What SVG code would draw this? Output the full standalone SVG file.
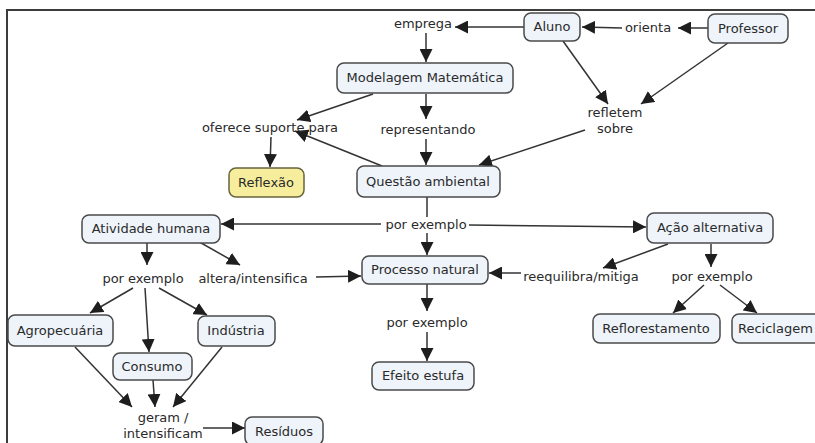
<svg xmlns="http://www.w3.org/2000/svg" width="815" height="443" viewBox="0 0 815 443">
<style>
text{font-family:"DejaVu Sans",Verdana,sans-serif;font-size:13px;fill:#2a2a2a;text-anchor:middle}
.n rect{fill:#eef4fa;stroke:#4a4a4a;stroke-width:1.5}
#reflexao rect{fill:#f6ee9c;stroke:#66643c}
.c line{stroke:#333;stroke-width:1.5;fill:none}
.a{marker-end:url(#ah)}
</style>
<defs>
<marker id="ah" viewBox="0 0 10 10" refX="10" refY="5" markerWidth="13" markerHeight="13" markerUnits="userSpaceOnUse" orient="auto">
<path d="M0,0 L10,5 L0,10 z" fill="#1e1e1e"/>
</marker>
</defs>
<rect width="815" height="443" fill="#fff"/>
<path d="M7,443 V10 H815" fill="none" stroke="#3c3c3c" stroke-width="2"/>

<g class="c" id="connectors">
<line class="a" x1="524" y1="27" x2="455" y2="27"/>
<line class="a" x1="708" y1="28" x2="678" y2="28"/>
<line class="a" x1="622" y1="28" x2="582" y2="27"/>
<line class="a" x1="426" y1="33" x2="426" y2="62"/>
<line class="a" x1="426" y1="94" x2="426" y2="119"/>
<line class="a" x1="426" y1="139" x2="426" y2="165"/>
<line class="a" x1="373" y1="94" x2="297" y2="120"/>
<line class="a" x1="382" y1="166" x2="295" y2="131"/>
<line class="a" x1="271" y1="137" x2="270" y2="167"/>
<line class="a" x1="563" y1="41" x2="608" y2="104"/>
<line class="a" x1="728" y1="43" x2="641" y2="104"/>
<line class="a" x1="585" y1="130" x2="479" y2="165"/>
<line x1="427" y1="197" x2="427" y2="217"/>
<line class="a" x1="381" y1="224" x2="221" y2="224"/>
<line class="a" x1="469" y1="225" x2="646" y2="227"/>
<line class="a" x1="427" y1="233" x2="427" y2="255"/>
<line class="a" x1="147" y1="243" x2="147" y2="265"/>
<line class="a" x1="187" y1="235" x2="240" y2="265"/>
<line class="a" x1="316" y1="277" x2="361" y2="276"/>
<line class="a" x1="668" y1="244" x2="603" y2="268"/>
<line class="a" x1="521" y1="273" x2="489" y2="273"/>
<line class="a" x1="711" y1="244" x2="711" y2="267"/>
<line class="a" x1="704" y1="285" x2="673" y2="313"/>
<line class="a" x1="720" y1="285" x2="757" y2="313"/>
<line class="a" x1="427" y1="284" x2="427" y2="311"/>
<line class="a" x1="427" y1="332" x2="427" y2="361"/>
<line class="a" x1="133" y1="288" x2="90" y2="313"/>
<line class="a" x1="145" y1="288" x2="149" y2="352"/>
<line class="a" x1="159" y1="288" x2="207" y2="315"/>
<line class="a" x1="75" y1="347" x2="132" y2="407"/>
<line class="a" x1="153" y1="380" x2="155" y2="407"/>
<line class="a" x1="222" y1="347" x2="173" y2="407"/>
<line class="a" x1="203" y1="428" x2="245" y2="428"/>
</g>

<g id="lbl-emprega"><text x="423" y="28">emprega</text></g>
<g id="lbl-orienta"><text x="648" y="32">orienta</text></g>
<g id="lbl-representando"><text x="428" y="134">representando</text></g>
<g id="lbl-oferece"><text x="270" y="132">oferece suporte para</text></g>
<g id="lbl-refletem"><text x="615" y="117">refletem</text><text x="615" y="133">sobre</text></g>
<g id="lbl-porexemplo1"><text x="426" y="229">por exemplo</text></g>
<g id="lbl-porexemplo2"><text x="143" y="283">por exemplo</text></g>
<g id="lbl-altera"><text x="253" y="283">altera/intensifica</text></g>
<g id="lbl-reequilibra"><text x="581" y="281">reequilibra/mitiga</text></g>
<g id="lbl-porexemplo3"><text x="712" y="281">por exemplo</text></g>
<g id="lbl-porexemplo4"><text x="427" y="327">por exemplo</text></g>
<g id="lbl-geram"><text x="163" y="422">geram /</text><text x="163" y="438">intensificam</text></g>

<g class="n" id="aluno"><rect x="524" y="13" width="56" height="28" rx="7"/><text x="552" y="31">Aluno</text></g>
<g class="n" id="professor"><rect x="708" y="14" width="80" height="29" rx="7"/><text x="748" y="33">Professor</text></g>
<g class="n" id="modelagem"><rect x="337" y="63" width="176" height="30" rx="7"/><text x="425" y="82">Modelagem Matemática</text></g>
<g class="n" id="reflexao"><rect x="229" y="168" width="75" height="29" rx="7"/><text x="266" y="187">Reflexão</text></g>
<g class="n" id="questao"><rect x="357" y="166" width="143" height="31" rx="7"/><text x="428" y="186">Questão ambiental</text></g>
<g class="n" id="atividade"><rect x="82" y="215" width="138" height="28" rx="7"/><text x="151" y="233">Atividade humana</text></g>
<g class="n" id="acao"><rect x="647" y="213" width="126" height="30" rx="7"/><text x="710" y="232">Ação alternativa</text></g>
<g class="n" id="processo"><rect x="362" y="256" width="126" height="28" rx="7"/><text x="425" y="274">Processo natural</text></g>
<g class="n" id="agropecuaria"><rect x="8" y="315" width="105" height="31" rx="7"/><text x="60" y="335">Agropecuária</text></g>
<g class="n" id="industria"><rect x="198" y="316" width="77" height="30" rx="7"/><text x="236" y="335">Indústria</text></g>
<g class="n" id="consumo"><rect x="113" y="353" width="79" height="27" rx="7"/><text x="152" y="371">Consumo</text></g>
<g class="n" id="efeito"><rect x="372" y="362" width="102" height="28" rx="7"/><text x="423" y="380">Efeito estufa</text></g>
<g class="n" id="reflorestamento"><rect x="593" y="314" width="127" height="29" rx="7"/><text x="656" y="333">Reflorestamento</text></g>
<g class="n" id="reciclagem"><rect x="732" y="314" width="95" height="29" rx="7"/><text x="738" y="333" style="text-anchor:start">Reciclagem</text></g>
<g class="n" id="residuos"><rect x="245" y="417" width="78" height="28" rx="7"/><text x="284" y="436">Resíduos</text></g>
</svg>
